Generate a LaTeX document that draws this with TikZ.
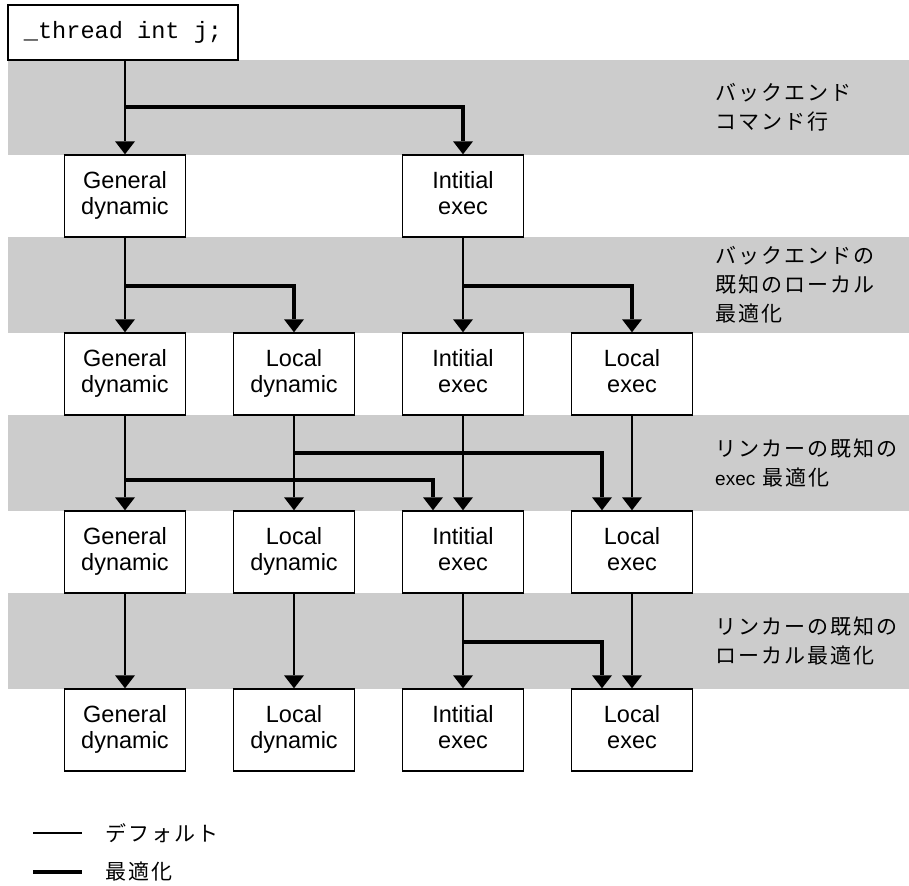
\documentclass[tikz,border=0pt]{standalone}
\usepackage{fontspec}
\setmainfont{Liberation Sans}
\setmonofont{Liberation Mono}
\newfontfamily\jpfont[LetterSpace=10]{Noto Sans CJK JP}
\usetikzlibrary{arrows.meta}
\definecolor{bandgray}{HTML}{CCCCCC}
\newcommand{\boxtext}[2]{#1\strut\\#2\strut}
\begin{document}
\begin{tikzpicture}[x=1pt,y=-1pt,
  box/.style={draw, line width=1.4pt, fill=white, minimum width=121pt, minimum height=82pt,
    inner sep=0pt, align=center, font=\fontsize{23.5}{26.5}\selectfont},
  topbox/.style={draw, line width=1.4pt, fill=white, minimum width=230pt, minimum height=55pt,
    inner sep=0pt, font=\ttfamily\fontsize{23.6}{26}\selectfont},
  band/.style={fill=bandgray, draw=none},
  tipshape/.tip={Triangle[width=20pt,length=13pt,line width=0pt]},
  thinarrow/.style={line width=1.5pt, -tipshape},
  thickarrow/.style={line width=3.5pt, -tipshape},
  lbl/.style={anchor=west, align=left, inner sep=0pt, font=\jpfont\fontsize{21}{29}\selectfont},
  thinline/.style={line width=1.5pt},
  thickline/.style={line width=3.5pt}]
\useasboundingbox (0,0) rectangle (909,885);
% bands
\fill[band] (8,60) rectangle (909,155);
\fill[band] (8,237) rectangle (909,333);
\fill[band] (8,415) rectangle (909,511);
\fill[band] (8,593) rectangle (909,689);
% top
\node[topbox] (top) at (123,32.5) {\_thread int j;};
% row 1
\node[box] (gd1) at (125,196) {\boxtext{General}{dynamic}};
\node[box] (ie1) at (463,196) {\boxtext{Intitial}{exec}};
% row 2
\node[box] (gd2) at (125,374) {\boxtext{General}{dynamic}};
\node[box] (ld2) at (294,374) {\boxtext{Local}{dynamic}};
\node[box] (ie2) at (463,374) {\boxtext{Intitial}{exec}};
\node[box] (le2) at (632,374) {\boxtext{Local}{exec}};
% row 3
\node[box] (gd3) at (125,552) {\boxtext{General}{dynamic}};
\node[box] (ld3) at (294,552) {\boxtext{Local}{dynamic}};
\node[box] (ie3) at (463,552) {\boxtext{Intitial}{exec}};
\node[box] (le3) at (632,552) {\boxtext{Local}{exec}};
% row 4
\node[box] (gd4) at (125,730) {\boxtext{General}{dynamic}};
\node[box] (ld4) at (294,730) {\boxtext{Local}{dynamic}};
\node[box] (ie4) at (463,730) {\boxtext{Intitial}{exec}};
\node[box] (le4) at (632,730) {\boxtext{Local}{exec}};
% junctions
\coordinate (j1) at (125,107);
\coordinate (j2) at (125,286);
\coordinate (j3) at (463,286);
\coordinate (j4) at (294,453);
\coordinate (j5) at (125,480);
\coordinate (j6) at (463,642);
% thin (default) connectors
\draw[thinarrow] (top.south -| gd1.north) -- (gd1.north);
\draw[thinarrow] (gd1) -- (gd2);
\draw[thinarrow] (gd2) -- (gd3);
\draw[thinarrow] (gd3) -- (gd4);
\draw[thinarrow] (ie1) -- (ie2);
\draw[thinarrow] (ie2) -- (ie3);
\draw[thinarrow] (ie3) -- (ie4);
\draw[thinarrow] (ld2) -- (ld3);
\draw[thinarrow] (ld3) -- (ld4);
\draw[thinarrow] (le2) -- (le3);
\draw[thinarrow] (le3) -- (le4);
% thick (optimisation) connectors
\draw[thickarrow] (j1) -| (ie1.north);
\draw[thickarrow] (j2) -| (ld2.north);
\draw[thickarrow] (j3) -| (le2.north);
\draw[thickarrow] (j4) -| ([xshift=-30pt]le3.north);
\draw[thickarrow] (j5) -| ([xshift=-30pt]ie3.north);
\draw[thickarrow] (j6) -| ([xshift=-30pt]le4.north);
% labels
\node[lbl] (l1) at (715,107.5) {バックエンド\\コマンド行};
\node[lbl] (l2) at (715,285) {バックエンドの\\既知のローカル\\最適化};
\node[lbl] (l3) at (715,463) {リンカーの既知の\\{\rmfamily\fontsize{19}{29}\selectfont exec} 最適化};
\node[lbl] (l4) at (715,641) {リンカーの既知の\\ローカル最適化};
% legend
\coordinate (la1) at (33,833);
\coordinate (lb1) at (82,833);
\coordinate (la2) at (33,872);
\coordinate (lb2) at (82,872);
\draw[thinline] (la1) -- (lb1);
\draw[thickline] (la2) -- (lb2);
\node[lbl] (leg1) at (105,833) {デフォルト};
\node[lbl] (leg2) at (105,872) {最適化};
\end{tikzpicture}
\end{document}
